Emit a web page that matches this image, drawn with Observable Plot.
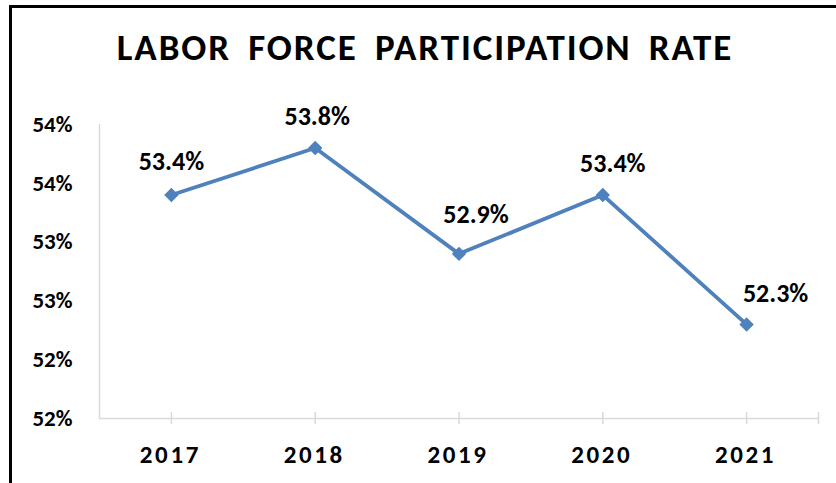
<!DOCTYPE html>
<html>
<head>
<meta charset="utf-8">
<script src="https://cdn.jsdelivr.net/npm/d3@7"></script>
<script src="https://cdn.jsdelivr.net/npm/@observablehq/plot@0.6"></script>
<style>
  body { margin: 0; background: #fff; }
  #wrap { position: relative; width: 836px; height: 483px; overflow: hidden; background: #fff;
          font-family: Carlito, Calibri, Lato, "Open Sans", sans-serif; }
  #frame { position: absolute; left: 9px; top: 5px; right: -10px; bottom: -10px;
           border-left: 3px solid #000; border-top: 3px solid #000; }
  #title { position: absolute; left: 7px; top: 27px; width: 836px; text-align: center;
           font-size: 37px; font-weight: bold; letter-spacing: 1.9px; word-spacing: 7px;
           line-height: 42px; color: #000; white-space: nowrap; }
  #chart { position: absolute; left: 0; top: 90px; }
  #chart svg { font-family: Carlito, Calibri, Lato, "Open Sans", sans-serif; overflow: visible; }
  #chart g[aria-label="x-axis tick label"] text { letter-spacing: 2.6px; }
</style>
</head>
<body>
<div id="wrap">
  <div id="frame"></div>
  <div id="title">LABOR FORCE PARTICIPATION RATE</div>
  <div id="chart"></div>
</div>
<script>
// ---- data ----
const years = [2017, 2018, 2019, 2020, 2021];
const rates = [53.4, 53.8, 52.9, 53.4, 52.3];
const yTicks = [51.5, 52, 52.5, 53, 53.5, 54];
const valueLabels = ["53.4%", "53.8%", "52.9%", "53.4%", "52.3%"];

const data = years.map((year, i) => ({year, rate: rates[i], label: valueLabels[i]}));

// ---- styling / layout ----
const blue = "#4F81BD";
const axisGray = "#D9D9D9";
const labelShift = [[0, -33], [2, -31], [17, -39], [10, -31], [29, -31]];
const xTickVals = [...years, years[years.length - 1] + 0.5];

const chart = Plot.plot({
  width: 836,
  height: 393,
  marginTop: 34,
  marginBottom: 65,
  marginLeft: 99,
  marginRight: 18,
  x: {domain: [years[0] - 0.5, years[years.length - 1] + 0.5]},
  y: {domain: [yTicks[0], yTicks[yTicks.length - 1]]},
  marks: [
    Plot.ruleY([yTicks[0]], {stroke: axisGray, strokeWidth: 1.5}),
    Plot.ruleX([years[0] - 0.5], {y1: yTicks[0], y2: yTicks[yTicks.length - 1], stroke: axisGray, strokeWidth: 1.5}),
    Plot.axisX({ticks: xTickVals, tickSize: 12, dy: -6, tickFormat: () => "", stroke: axisGray, strokeWidth: 1.5, label: null}),
    Plot.axisX({ticks: years, tickSize: 0, tickPadding: 27, dx: -1, tickFormat: d => String(d),
                fontSize: 25, fontWeight: "bold", fill: "#000", label: null}),
    Plot.axisY({ticks: yTicks, tickSize: 0, tickPadding: 27, tickFormat: d => Math.round(d) + "%",
                fontSize: 23, fontWeight: "bold", fill: "#000", label: null}),
    Plot.line(data, {x: "year", y: "rate", stroke: blue, strokeWidth: 3.8}),
    Plot.dot(data, {x: "year", y: "rate", symbol: "diamond2", r: 6.5, fill: blue, stroke: "none"}),
    ...data.map((d, i) => Plot.text([d], {x: "year", y: "rate", text: "label",
        dx: labelShift[i][0], dy: labelShift[i][1], fontSize: 26, fontWeight: "bold", fill: "#000"}))
  ]
});
document.getElementById("chart").appendChild(chart);
</script>
</body>
</html>
